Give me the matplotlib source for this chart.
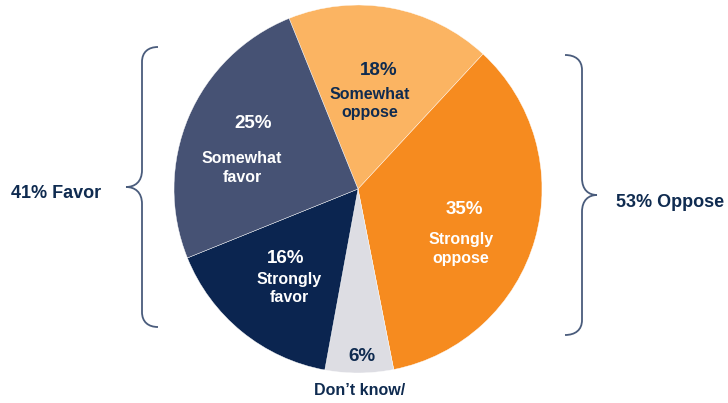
import matplotlib
matplotlib.use("Agg")
import matplotlib.pyplot as plt
from matplotlib.path import Path
from matplotlib.patches import PathPatch

# data, in the order the slices are drawn (clockwise from upper left)
categories = ["Somewhat\noppose", "Strongly\noppose", "Don\u2019t know/", "Strongly\nfavor", "Somewhat\nfavor"]
values = [18, 35, 6, 16, 25]
favor_idx = [3, 4]
oppose_idx = [0, 1]

colors = ["#FBB462", "#F68B1F", "#DDDDE3", "#0B2550", "#465274"]
NAVY = "#0F2B50"
pct_colors = [NAVY, "white", NAVY, "white", "white"]
name_colors = [NAVY, "white", NAVY, "white", "white"]

W, H = 728, 403
CX, CY, R = 358, 189, 184   # pie centre / radius in pixels (y from top)

# label layout in pixels (x, baseline y from top)
pct_pos = [(379, 75), (464, 214), (362, 361), (286, 263), (253, 128)]
name_pos = [(370, 99), (461, 244), (360, 395), (289, 284), (242, 163)]
LINE_STEP = 18.5

plt.rcParams['font.family'] = ['Liberation Sans', 'DejaVu Sans']

fig = plt.figure(figsize=(W / 100, H / 100), dpi=100)
ax = fig.add_axes([0, 0, 1, 1])


def py(y):
    return H - y


wedges, _ = ax.pie(values, colors=colors, startangle=112, counterclock=False,
                   center=(CX, py(CY)), radius=R,
                   wedgeprops=dict(edgecolor="white", linewidth=0.3))

for i, v in enumerate(values):
    x, y = pct_pos[i]
    ax.text(x, py(y), f"{v}%", ha="center", va="baseline", fontsize=13.5,
            fontweight="bold", color=pct_colors[i])
    nx, ny = name_pos[i]
    for j, line in enumerate(categories[i].split("\n")):
        ax.text(nx, py(ny + j * LINE_STEP), line, ha="center", va="baseline",
                fontsize=11.5, fontweight="bold", color=name_colors[i])


def brace(x_end, x_line, x_tip, y_top, y_tip, y_bot):
    # curly brace made of cubic curves, pixel coords (y from top)
    k = x_line - x_end
    t = x_tip - x_line
    pts = [
        (x_end, y_top),
        (x_end + 0.6 * k, y_top), (x_line, y_top + 5), (x_line, y_top + 15),
        (x_line, y_tip - 17),
        (x_line, y_tip - 5), (x_line + 0.45 * t, y_tip), (x_tip, y_tip),
        (x_line + 0.45 * t, y_tip), (x_line, y_tip + 5), (x_line, y_tip + 17),
        (x_line, y_bot - 15),
        (x_line, y_bot - 5), (x_end + 0.6 * k, y_bot), (x_end, y_bot),
    ]
    codes = [Path.MOVETO, Path.CURVE4, Path.CURVE4, Path.CURVE4, Path.LINETO,
             Path.CURVE4, Path.CURVE4, Path.CURVE4,
             Path.CURVE4, Path.CURVE4, Path.CURVE4, Path.LINETO,
             Path.CURVE4, Path.CURVE4, Path.CURVE4]
    verts = [(px, py(pyy)) for px, pyy in pts]
    ax.add_patch(PathPatch(Path(verts, codes), facecolor="none",
                           edgecolor="#4A5C7C", linewidth=1.3))


brace(158, 142, 126, 47, 187, 327)
brace(565, 582, 597, 55, 195, 335)

favor = sum(values[i] for i in favor_idx)
oppose = sum(values[i] for i in oppose_idx)
ax.text(56, py(198), f"{favor}% Favor", ha="center", va="baseline",
        fontsize=13, fontweight="bold", color=NAVY)
ax.text(670, py(207), f"{oppose}% Oppose", ha="center", va="baseline",
        fontsize=13, fontweight="bold", color=NAVY)

ax.set_xlim(0, W)
ax.set_ylim(0, H)
ax.set_aspect("equal")
ax.axis("off")

fig.savefig("out.png", dpi=100)
